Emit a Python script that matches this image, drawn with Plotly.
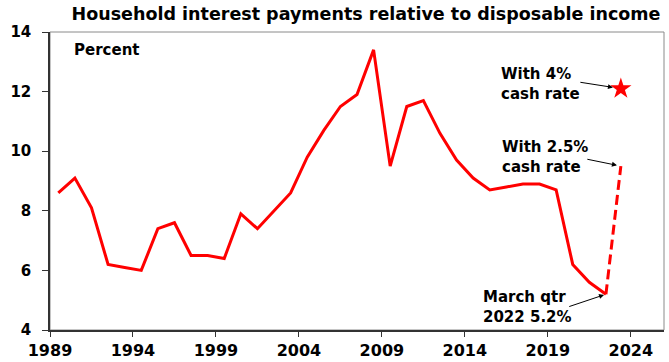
import plotly.graph_objects as go

# ---- data ----
years = list(range(1989, 2023))  # annual observations (plotted mid-year)
interest_pct = [8.6, 9.1, 8.1, 6.2, 6.1, 6.0, 7.4, 7.6, 6.5, 6.5, 6.4, 7.9, 7.4,
                8.0, 8.6, 9.8, 10.7, 11.5, 11.9, 13.4, 9.5, 11.5, 11.7, 10.6,
                9.7, 9.1, 8.7, 8.8, 8.9, 8.9, 8.7, 6.2, 5.6, 5.2]
proj_x = 2023.4
proj_25 = 9.5   # with 2.5% cash rate
proj_4 = 12.1   # with 4% cash rate
tick_years = [1989, 1994, 1999, 2004, 2009, 2014, 2019, 2024]
y_ticks = [4, 6, 8, 10, 12, 14]

x_hist = [y + 0.5 for y in years]

FONT = "DejaVu Sans, Arial, sans-serif"
RED = "#FF0000"

fig = go.Figure()
fig.add_trace(go.Scatter(x=x_hist, y=interest_pct, mode="lines",
                         line=dict(color=RED, width=3), hoverinfo="skip"))
fig.add_trace(go.Scatter(x=[x_hist[-1], proj_x], y=[interest_pct[-1], proj_25],
                         mode="lines",
                         line=dict(color=RED, width=3, dash="10px,5px"),
                         hoverinfo="skip"))
fig.add_trace(go.Scatter(x=[proj_x], y=[proj_4], mode="markers",
                         marker=dict(symbol="star", size=16, color=RED,
                                     line=dict(width=0)),
                         hoverinfo="skip"))

# light frame (top/right)
fig.add_shape(type="rect", xref="paper", yref="paper", x0=0, y0=0, x1=1, y1=1,
              line=dict(color="#8a8a8a", width=1), layer="below")

annots = []
tfont = dict(family=FONT, size=15, color="black")
annots.append(dict(x=2016.05, y=12.24, xref="x", yref="y", showarrow=False,
                   text="<b>With 4%<br>cash rate</b>", xanchor="left",
                   yanchor="middle", align="left", font=tfont))
annots.append(dict(x=2016.1, y=9.82, xref="x", yref="y", showarrow=False,
                   text="<b>With 2.5%<br>cash rate</b>", xanchor="left",
                   yanchor="middle", align="left", font=tfont))
annots.append(dict(x=2015.0, y=4.77, xref="x", yref="y", showarrow=False,
                   text="<b>March qtr<br>2022 5.2%</b>", xanchor="left",
                   yanchor="middle", align="left", font=tfont))
# arrows
arrow_common = dict(xref="x", yref="y", axref="x", ayref="y", text="",
                    showarrow=True, arrowhead=2, arrowsize=1, arrowwidth=1,
                    arrowcolor="black")
annots.append(dict(x=proj_x, y=proj_4, ax=2020.87, ay=12.32, standoff=8,
                   **arrow_common))
annots.append(dict(x=proj_x, y=proj_25, ax=2021.29, ay=9.74, standoff=4,
                   **arrow_common))
annots.append(dict(x=x_hist[-1], y=interest_pct[-1], ax=2020.2, ay=4.77,
                   standoff=2, **arrow_common))
annots.append(dict(x=(72 - 50) / 614, y=1 - (50 - 32) / 298, xref="paper",
                   yref="paper", showarrow=False, text="<b>Percent</b>",
                   xanchor="left", yanchor="middle", font=tfont))

fig.update_layout(
    width=669, height=362,
    margin=dict(l=50, r=5, t=32, b=32),
    paper_bgcolor="white", plot_bgcolor="white",
    showlegend=False,
    title=dict(text="<b>Household interest payments relative to disposable income</b>",
               font=dict(family=FONT, size=17.5, color="black"),
               xref="container", x=366 / 669, xanchor="center",
               yref="container", y=1 - 14 / 362, yanchor="middle"),
    annotations=annots,
    xaxis=dict(range=[1989, 2026], tickmode="array", tickvals=tick_years,
               ticktext=[f"<b>{t}</b>" for t in tick_years],
               showgrid=False, zeroline=False, showline=True,
               linecolor="#333333", linewidth=1.5, automargin=False,
               ticks="outside", ticklen=5, tickcolor="#333333",
               tickfont=dict(family=FONT, size=16, color="black"),
               ticklabelstandoff=0),
    yaxis=dict(range=[4, 14], tickmode="array", tickvals=y_ticks,
               ticktext=[f"<b>{t}</b>" for t in y_ticks],
               showgrid=False, zeroline=False, showline=True,
               linecolor="#333333", linewidth=1.5, automargin=False,
               ticks="outside", ticklen=6, tickcolor="#333333",
               tickfont=dict(family=FONT, size=15, color="black"),
               ticklabelstandoff=8),
)

fig.write_html("out.html")
